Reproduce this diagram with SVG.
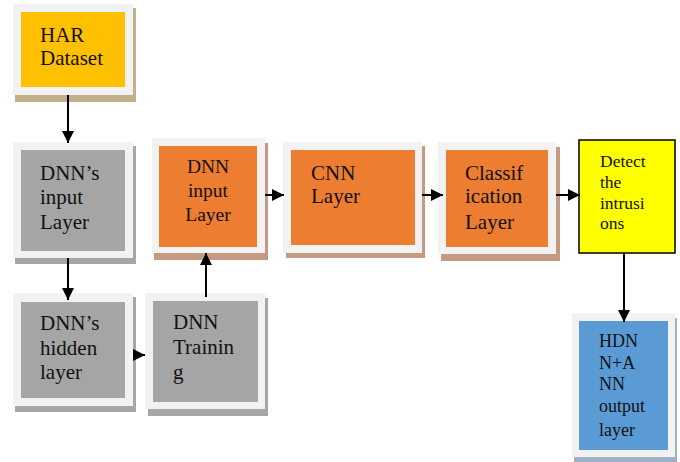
<svg xmlns="http://www.w3.org/2000/svg" width="680" height="462" viewBox="0 0 680 462">
  <style>
    .frame { fill: #f2f2f2; }
    .txt { font-family: "Liberation Serif", "Times New Roman", serif; fill: #111; }
    .big { font-size: 21px; }
    .mid { font-size: 18px; }
    .mid2 { font-size: 19.5px; }
    .sm { font-size: 17.5px; }
    .conn line { stroke: #000; stroke-width: 2; }
  </style>
  <defs>
    <marker id="head" viewBox="0 0 12 12" refX="12" refY="6" markerWidth="12" markerHeight="12" markerUnits="userSpaceOnUse" orient="auto">
      <path d="M0,0 L12,6 L0,12 Z" fill="#000"/>
    </marker>
  </defs>
  <rect width="680" height="462" fill="#fff"/>

  <!-- HAR Dataset -->
  <g id="har">
    <rect x="15" y="8" width="121" height="94" fill="#bfb28a"/>
    <rect class="frame" x="13" y="4" width="120" height="91"/>
    <rect x="21" y="12" width="104" height="75" fill="#ffc000"/>
    <text class="txt big" x="40" y="42">HAR</text>
    <text class="txt big" x="40" y="65">Dataset</text>
  </g>

  <!-- DNN's input Layer -->
  <g id="dnn-input-gray">
    <rect x="15" y="146" width="121" height="118" fill="#a6a6a6"/>
    <rect class="frame" x="13" y="142" width="120" height="116"/>
    <rect x="21" y="150" width="104" height="101" fill="#a5a5a5"/>
    <text class="txt big" x="40" y="180">DNN’s</text>
    <text class="txt big" x="40" y="204">input</text>
    <text class="txt big" x="40" y="229">Layer</text>
  </g>

  <!-- DNN's hidden layer -->
  <g id="dnn-hidden">
    <rect x="15" y="297" width="121" height="115" fill="#a6a6a6"/>
    <rect class="frame" x="13" y="293" width="120" height="113"/>
    <rect x="21" y="302" width="104" height="96" fill="#a5a5a5"/>
    <text class="txt big" x="40" y="330">DNN’s</text>
    <text class="txt big" x="40" y="355">hidden</text>
    <text class="txt big" x="40" y="379">layer</text>
  </g>

  <!-- DNN Training -->
  <g id="dnn-training">
    <rect x="148" y="298" width="120" height="118" fill="#a6a6a6"/>
    <rect class="frame" x="145" y="293" width="120" height="116"/>
    <rect x="153" y="301" width="105" height="101" fill="#a5a5a5"/>
    <text class="txt big" x="173" y="329">DNN</text>
    <text class="txt big" x="173" y="354">Trainin</text>
    <text class="txt big" x="173" y="379">g</text>
  </g>

  <!-- DNN input Layer (orange) -->
  <g id="dnn-input">
    <rect x="154" y="143" width="114" height="117" fill="#c49a82"/>
    <rect class="frame" x="152" y="138" width="113" height="115"/>
    <rect x="159" y="146" width="98" height="101" fill="#ed7d31"/>
    <text class="txt mid2" x="208" y="173" text-anchor="middle">DNN</text>
    <text class="txt mid2" x="208" y="197" text-anchor="middle">input</text>
    <text class="txt mid2" x="208" y="221" text-anchor="middle">Layer</text>
  </g>

  <!-- CNN Layer -->
  <g id="cnn">
    <rect x="286" y="146" width="139" height="112" fill="#c49a82"/>
    <rect class="frame" x="283" y="142" width="139" height="111"/>
    <rect x="291" y="150" width="124" height="95" fill="#ed7d31"/>
    <text class="txt big" x="311" y="180">CNN</text>
    <text class="txt big" x="311" y="203">Layer</text>
  </g>

  <!-- Classification Layer -->
  <g id="classification">
    <rect x="441" y="147" width="119" height="114" fill="#c49a82"/>
    <rect class="frame" x="438" y="142" width="118" height="112"/>
    <rect x="446" y="150" width="102" height="97" fill="#ed7d31"/>
    <text class="txt big" x="465" y="180">Classif</text>
    <text class="txt big" x="465" y="203">ication</text>
    <text class="txt big" x="465" y="229">Layer</text>
  </g>

  <!-- Detect the intrusions -->
  <g id="detect">
    <rect x="579" y="140" width="96" height="113" fill="#ffff00" stroke="#000" stroke-width="1.5"/>
    <text class="txt sm" x="600" y="167">Detect</text>
    <text class="txt sm" x="600" y="188">the</text>
    <text class="txt sm" x="600" y="209">intrusi</text>
    <text class="txt sm" x="600" y="229">ons</text>
  </g>

  <!-- HDNN+ANN output layer -->
  <g id="output">
    <rect x="574" y="318" width="103" height="144" fill="#9fb0c6"/>
    <rect class="frame" x="572" y="313" width="103" height="144"/>
    <rect x="579" y="321" width="89" height="129" fill="#5b9bd5"/>
    <text class="txt mid" x="599" y="347">HDN</text>
    <text class="txt mid" x="599" y="369">N+A</text>
    <text class="txt mid" x="599" y="390">NN</text>
    <text class="txt mid" x="599" y="412">output</text>
    <text class="txt mid" x="599" y="436">layer</text>
  </g>

  <!-- connectors -->
  <g class="conn" id="connectors">
    <line x1="68" y1="95" x2="68" y2="143" marker-end="url(#head)"/>
    <line x1="68" y1="258" x2="68" y2="300" marker-end="url(#head)"/>
    <line x1="134" y1="355" x2="145" y2="355" marker-end="url(#head)"/>
    <line x1="206" y1="297" x2="206" y2="253" marker-end="url(#head)"/>
    <line x1="265" y1="195" x2="284" y2="195" marker-end="url(#head)"/>
    <line x1="422" y1="195" x2="443" y2="195" marker-end="url(#head)"/>
    <line x1="556" y1="195" x2="580" y2="195" marker-end="url(#head)"/>
    <line x1="624" y1="253" x2="624" y2="322" marker-end="url(#head)"/>
  </g>
</svg>
